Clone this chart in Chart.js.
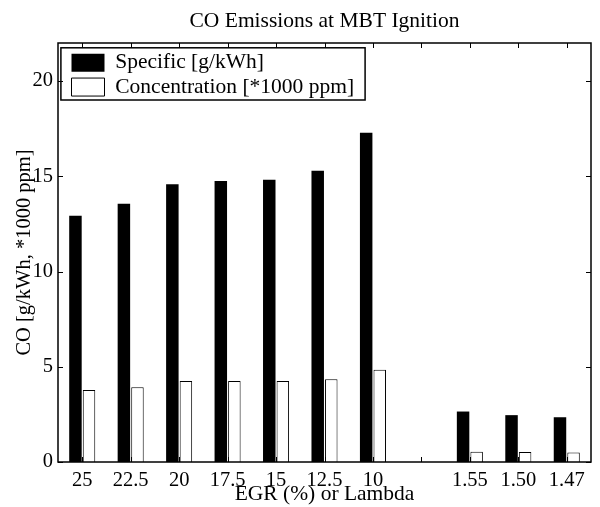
<!DOCTYPE html>
<html>
<head>
<meta charset="utf-8">
<script src="https://cdn.jsdelivr.net/npm/chart.js@4/dist/chart.umd.min.js"></script>
<style>
  html, body { margin: 0; padding: 0; background: #fff; }
  #wrap { width: 600px; height: 507px; }
</style>
</head>
<body>
<div id="wrap"><canvas id="coChart" width="600" height="507"></canvas></div>
<script>
// Datos
const categories = ["25", "22.5", "20", "17.5", "15", "12.5", "10", "", "1.55", "1.50", "1.47"];
const specificValues = [12.93, 13.56, 14.59, 14.75, 14.82, 15.29, 17.29, null, 2.65, 2.46, 2.35];
const concentrationValues = [3.78, 3.92, 4.25, 4.25, 4.25, 4.34, 4.84, null, 0.54, 0.52, 0.50];
const yTicks = [0, 5, 10, 15, 20];

const chartTitle = "CO Emissions at MBT Ignition";
const serif = "'Liberation Serif', 'Times New Roman', serif";

// Marco de ejes estilo MATLAB: caja, ticks hacia adentro, titulo y borde de leyenda
const matlabAxes = {
  id: "matlabAxes",
  afterLayout(chart) {
    const lg = chart.legend;
    const ca = chart.chartArea;
    lg.left = ca.left + 10.7;
    lg.top = ca.top + 6.2;
    lg.right = lg.left + lg.width;
    lg.bottom = lg.top + lg.height;
  },
  afterDraw(chart) {
    const { ctx, chartArea: ca, scales } = chart;
    const tick = 5;
    ctx.save();
    ctx.strokeStyle = "#000";
    ctx.lineWidth = 1;
    ctx.beginPath();
    scales.y.ticks.forEach((t) => {
      const y = Math.round(scales.y.getPixelForValue(t.value)) + 0.5;
      ctx.moveTo(ca.left, y);
      ctx.lineTo(ca.left + tick, y);
      ctx.moveTo(ca.right, y);
      ctx.lineTo(ca.right - tick, y);
    });
    categories.forEach((c, i) => {
      const x = Math.round(scales.x.getPixelForTick(i)) + 0.5;
      ctx.moveTo(x, ca.bottom);
      ctx.lineTo(x, ca.bottom - tick);
      ctx.moveTo(x, ca.top);
      ctx.lineTo(x, ca.top + tick);
    });
    ctx.stroke();

    ctx.lineWidth = 1.5;
    ctx.strokeRect(ca.left, ca.top, ca.right - ca.left, ca.bottom - ca.top);

    // borde de la leyenda
    const boxes = chart.legend.legendHitBoxes;
    if (boxes && boxes.length) {
      const left = boxes[0].left - 10.6;
      const top = boxes[0].top - 4.2;
      const right = Math.max(...boxes.map((b) => b.left + b.width)) + 11;
      const last = boxes[boxes.length - 1];
      const bottom = last.top + last.height + 2.2;
      ctx.lineWidth = 1.5;
      ctx.strokeRect(left, top, right - left, bottom - top);
    }

    // titulo centrado sobre los ejes
    ctx.fillStyle = "#000";
    ctx.font = "21.5px " + serif;
    ctx.textAlign = "center";
    ctx.textBaseline = "alphabetic";
    ctx.fillText(chartTitle, (ca.left + ca.right) / 2, 27);
    ctx.restore();
  },
};

const ctx = document.getElementById("coChart").getContext("2d");

new Chart(ctx, {
  type: "bar",
  data: {
    labels: categories,
    datasets: [
      {
        label: "Specific [g/kWh]",
        data: specificValues,
        backgroundColor: "#000",
        borderColor: "#000",
        borderWidth: 0,
      },
      {
        label: "Concentration [*1000 ppm]",
        data: concentrationValues,
        backgroundColor: "#fff",
        borderColor: "#000",
        borderWidth: 1,
      },
    ],
  },
  options: {
    responsive: false,
    animation: false,
    devicePixelRatio: 1,
    categoryPercentage: 0.56,
    barPercentage: 0.92,
    layout: { padding: { top: 43, right: 9, left: 0, bottom: 0 } },
    scales: {
      x: {
        grid: { display: false, drawTicks: false },
        border: { display: false },
        ticks: {
          color: "#000",
          font: { family: serif, size: 20.5 },
          padding: 6,
          maxRotation: 0,
          autoSkip: false,
        },
        title: {
          display: true,
          text: "EGR (%) or Lambda",
          color: "#000",
          font: { family: serif, size: 21.5 },
          padding: { top: 0, bottom: 0 },
        },
        afterFit: (scale) => {
          scale.height = 45;
        },
      },
      y: {
        min: 0,
        max: 22,
        grid: { display: false, drawTicks: false },
        border: { display: false },
        ticks: {
          color: "#000",
          font: { family: serif, size: 20.5 },
          padding: 5,
          stepSize: 5,
        },
        afterBuildTicks: (scale) => {
          scale.ticks = yTicks.map((v) => ({ value: v }));
        },
        title: {
          display: true,
          text: "CO [g/kWh, *1000 ppm]",
          color: "#000",
          font: { family: serif, size: 20.5 },
          padding: { top: 12, bottom: 0 },
        },
        afterFit: (scale) => {
          scale.width = 58;
        },
      },
    },
    plugins: {
      title: { display: false },
      tooltip: { enabled: false },
      legend: {
        position: "chartArea",
        align: "start",
        labels: {
          color: "#000",
          font: { family: serif, size: 21.5 },
          boxWidth: 33,
          boxHeight: 18,
          padding: 2.8,
        },
      },
    },
  },
  plugins: [matlabAxes],
});
</script>
</body>
</html>
